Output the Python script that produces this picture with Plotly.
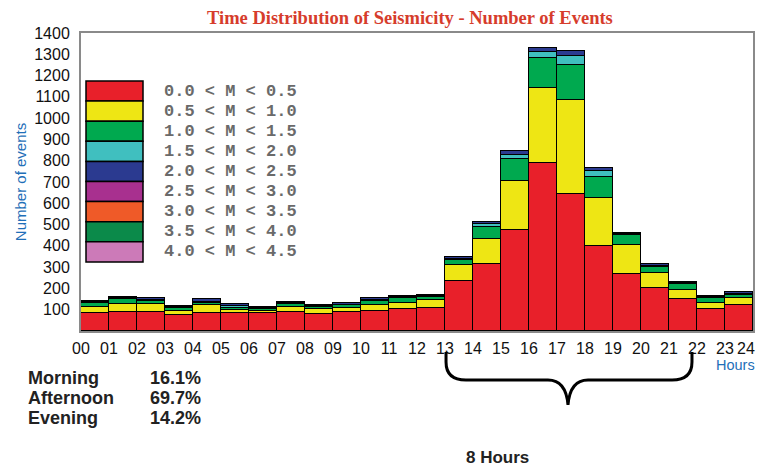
import plotly.graph_objects as go

# ---------------- data ----------------
hours = list(range(24))
tick_labels = ["00", "01", "02", "03", "04", "05", "06", "07", "08", "09", "10", "11",
               "12", "13", "14", "15", "16", "17", "18", "19", "20", "21", "22", "23", "24"]
y_ticks = [100, 200, 300, 400, 500, 600, 700, 800, 900, 1000, 1100, 1200, 1300, 1400]

m_00_05 = [85, 89, 89, 74, 86, 83, 83, 88, 78, 88, 95, 103, 109, 235, 315, 475, 788, 645, 400, 268, 201, 149, 102, 122]
m_05_10 = [30, 38, 36, 19, 36, 15, 12, 23, 24, 22, 27, 27, 37, 75, 117, 230, 352, 441, 224, 136, 70, 44, 31, 32]
m_10_15 = [15, 23, 14, 17, 8, 12, 8, 15, 10, 10, 18, 25, 14, 24, 58, 103, 143, 164, 101, 47, 31, 28, 22, 15]
m_15_20 = [5, 5, 6, 4, 6, 6, 5, 6, 4, 4, 6, 4, 5, 5, 12, 19, 26, 42, 27, 6, 5, 5, 5, 6]
m_20_25 = [7, 6, 8, 5, 14, 9, 6, 6, 5, 6, 8, 5, 6, 8, 12, 20, 19, 24, 12, 5, 6, 6, 6, 7]

class_labels = ["0.0 < M < 0.5", "0.5 < M < 1.0", "1.0 < M < 1.5", "1.5 < M < 2.0",
                "2.0 < M < 2.5", "2.5 < M < 3.0", "3.0 < M < 3.5", "3.5 < M < 4.0",
                "4.0 < M < 4.5"]
class_colors = ["#e8202a", "#eee614", "#00a94f", "#40bfbf", "#2b3a90",
                "#a8308f", "#ef5a28", "#0b8a4a", "#cc7ab8"]
series = [m_00_05, m_05_10, m_10_15, m_15_20, m_20_25]

summary_names = ["Morning", "Afternoon", "Evening"]
summary_values = ["16.1%", "69.7%", "14.2%"]

# ---------------- figure ----------------
L, R, T, B = 81, 4, 33, 138
W, H = 757, 469
PW, PH = W - L - R, H - T - B


def px(xp):
    return (xp - L) / PW


def py(yp):
    return (H - B - yp) / PH


fig = go.Figure()
xs = [h + 0.5 for h in hours]
for vals, name, col in zip(series, class_labels, class_colors):
    fig.add_trace(go.Bar(x=xs, y=vals, width=1, name=name,
                         marker=dict(color=col, line=dict(color="black", width=1.5)),
                         showlegend=False))

shapes = []
annotations = []

# custom legend (big colour boxes)
row_top, row_h = 81, 20.1
for i, (name, col) in enumerate(zip(class_labels, class_colors)):
    t = row_top + i * row_h
    shapes.append(dict(type="rect", xref="paper", yref="paper",
                       x0=px(86), x1=px(143), y0=py(t + row_h), y1=py(t),
                       fillcolor=col, line=dict(color="black", width=1.5)))
    annotations.append(dict(xref="paper", yref="paper", x=px(162), y=py(t + row_h / 2),
                            xanchor="left", yanchor="middle", showarrow=False,
                            text="<b>" + name + "</b>",
                            font=dict(family="Liberation Mono, Courier New, monospace",
                                      size=17, color="#6a6a6a")))

# brace
def P(a, b):
    return f"{px(a):.4f},{py(b):.4f}"

brace = ("M " + P(446, 352) + " L " + P(446, 362) + " Q " + P(446, 380) + " " + P(466, 380) +
         " L " + P(548, 380) + " Q " + P(566, 380) + " " + P(568, 405) +
         " Q " + P(570, 380) + " " + P(588, 380) + " L " + P(672, 380) +
         " Q " + P(692, 380) + " " + P(692, 362) + " L " + P(692, 352))
shapes.append(dict(type="path", xref="paper", yref="paper", path=brace,
                   line=dict(color="black", width=3)))

# title
annotations.append(dict(xref="paper", yref="paper", x=px(410), y=py(18),
                        xanchor="center", yanchor="middle", showarrow=False,
                        text="<b>Time Distribution of Seismicity - Number of Events</b>",
                        font=dict(family="Liberation Serif, Times New Roman, serif",
                                  size=18.5, color="#d63c2c")))
# last hour label, kept inside the page edge
annotations.append(dict(xref="paper", yref="paper", x=px(757), y=py(348),
                        xanchor="right", yanchor="middle", showarrow=False,
                        text=tick_labels[-1],
                        font=dict(family="Liberation Sans, Arial", size=16, color="#111")))
# Hours label
annotations.append(dict(xref="paper", yref="paper", x=px(714), y=py(365),
                        xanchor="left", yanchor="middle", showarrow=False,
                        text="Hours", font=dict(family="Liberation Sans, Arial", size=14.5,
                                                color="#1f6fb8")))
# summary text
for i, (n, v) in enumerate(zip(summary_names, summary_values)):
    yy = 378 + i * 20
    annotations.append(dict(xref="paper", yref="paper", x=px(26), y=py(yy),
                            xanchor="left", yanchor="middle", showarrow=False,
                            text="<b>" + n + "</b>",
                            font=dict(family="Liberation Sans, Arial", size=18, color="#222")))
    annotations.append(dict(xref="paper", yref="paper", x=px(148), y=py(yy),
                            xanchor="left", yanchor="middle", showarrow=False,
                            text="<b>" + v + "</b>",
                            font=dict(family="Liberation Sans, Arial", size=18, color="#222")))
annotations.append(dict(xref="paper", yref="paper", x=px(497), y=py(457),
                        xanchor="center", yanchor="middle", showarrow=False,
                        text="<b>8 Hours</b>",
                        font=dict(family="Liberation Sans, Arial", size=17, color="#222")))

fig.update_layout(
    width=W, height=H,
    margin=dict(l=L, r=R, t=T, b=B),
    paper_bgcolor="white", plot_bgcolor="white",
    barmode="stack", bargap=0,
    showlegend=False,
    shapes=shapes, annotations=annotations,
    font=dict(family="Liberation Sans, Arial", color="black"),
    xaxis=dict(range=[0, 24], tickmode="array", tickvals=list(range(24)),
               ticktext=tick_labels[:24],
               showgrid=False, zeroline=False, ticks="", showline=True, mirror=True,
               linecolor="#8a8a8a", linewidth=2, tickfont=dict(size=16, color="#111"),
               ticklabelstandoff=2, automargin=False),
    yaxis=dict(range=[0, 1400], tickmode="array", tickvals=y_ticks,
               ticktext=[str(v) for v in y_ticks],
               showgrid=False, zeroline=False, ticks="", showline=True, mirror=True,
               linecolor="#8a8a8a", linewidth=2, tickfont=dict(size=16, color="#111"),
               ticklabelstandoff=6, automargin=False,
               title=dict(text="Number of events", standoff=4,
                          font=dict(size=15, color="#1f6fb8"))),
)

fig.write_html("out.html", config={"displayModeBar": False},
               post_script="document.body.style.margin='0';document.body.style.overflow='hidden';")
